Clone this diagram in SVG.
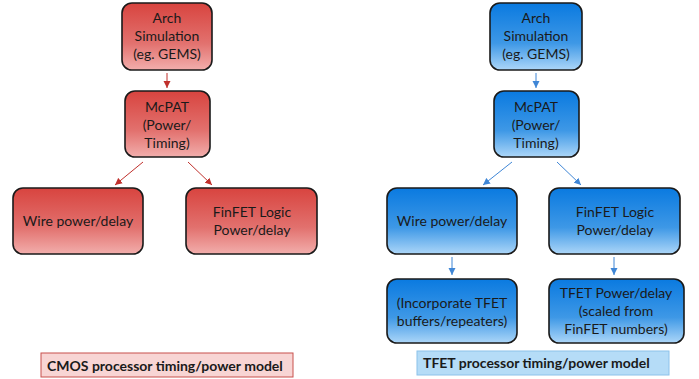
<svg xmlns="http://www.w3.org/2000/svg" width="699" height="379" viewBox="0 0 699 379">
<defs>
<linearGradient id="gr" x1="0" y1="0" x2="0" y2="1">
<stop offset="0" stop-color="#d8443f"/>
<stop offset="0.6" stop-color="#e2716e"/>
<stop offset="1" stop-color="#f2aeac"/>
</linearGradient>
<linearGradient id="gb" x1="0" y1="0" x2="0" y2="1">
<stop offset="0" stop-color="#0a7ae0"/>
<stop offset="0.6" stop-color="#3e98e6"/>
<stop offset="1" stop-color="#acd6f8"/>
</linearGradient>
<marker id="ar" markerWidth="8" markerHeight="8" refX="7" refY="4" orient="auto" markerUnits="userSpaceOnUse">
<path d="M0,0.5 L7,4 L0,7.5 Z" fill="#c0302c"/>
</marker>
<marker id="ab" markerWidth="8" markerHeight="8" refX="7" refY="4" orient="auto" markerUnits="userSpaceOnUse">
<path d="M0,0.5 L7,4 L0,7.5 Z" fill="#3f86d6"/>
</marker>
</defs>
<style>
.r{fill:url(#gr);stroke:#1a1a1a;stroke-width:1.6}
.b{fill:url(#gb);stroke:#1a1a1a;stroke-width:1.6}
text{font-family:Lato,"Open Sans",sans-serif;font-size:14px;fill:#1a1a1a;text-anchor:middle}
.lbl{font-weight:bold;text-anchor:start}
.cr{stroke:#c0302c;stroke-width:1;fill:none;marker-end:url(#ar)}
.cb{stroke:#3f86d6;stroke-width:1;fill:none;marker-end:url(#ab)}
</style>
<rect width="699" height="379" fill="#ffffff"/>
<g id="connectors">
<line class="cr" x1="167" y1="73" x2="167" y2="88"/>
<line class="cr" x1="143" y1="162" x2="115" y2="185"/>
<line class="cr" x1="188" y1="162" x2="212" y2="185"/>
<line class="cb" x1="536" y1="73" x2="536" y2="88"/>
<line class="cb" x1="512" y1="162" x2="483" y2="185"/>
<line class="cb" x1="557" y1="162" x2="581" y2="185"/>
<line class="cb" x1="452" y1="257" x2="452" y2="275"/>
<line class="cb" x1="614" y1="257" x2="614" y2="275"/>
</g>
<g id="r-arch"><rect class="r" x="122" y="3" width="90" height="67" rx="10"/>
<text x="167" y="23">Arch</text><text x="167" y="41">Simulation</text><text x="167" y="59">(eg. GEMS)</text></g>
<g id="r-mcpat"><rect class="r" x="125" y="91" width="85" height="66" rx="10"/>
<text x="167" y="112">McPAT</text><text x="167" y="130">(Power/</text><text x="167" y="148">Timing)</text></g>
<g id="r-wire"><rect class="r" x="13" y="188" width="130" height="66" rx="10"/>
<text x="78" y="226">Wire power/delay</text></g>
<g id="r-finfet"><rect class="r" x="186" y="188" width="131" height="66" rx="10"/>
<text x="252" y="217">FinFET Logic</text><text x="252" y="235">Power/delay</text></g>
<g id="cmos-label"><rect x="41" y="353" width="252" height="24" fill="#f8d5d4" stroke="#c8504c" stroke-width="1"/>
<text class="lbl" x="47" y="371">CMOS processor timing/power model</text></g>
<g id="b-arch"><rect class="b" x="490" y="3" width="92" height="67" rx="10"/>
<text x="536" y="23">Arch</text><text x="536" y="41">Simulation</text><text x="536" y="59">(eg. GEMS)</text></g>
<g id="b-mcpat"><rect class="b" x="494" y="91" width="85" height="66" rx="10"/>
<text x="536" y="112">McPAT</text><text x="536" y="130">(Power/</text><text x="536" y="148">Timing)</text></g>
<g id="b-wire"><rect class="b" x="387" y="188" width="130" height="66" rx="10"/>
<text x="452" y="226">Wire power/delay</text></g>
<g id="b-finfet"><rect class="b" x="549" y="188" width="131" height="66" rx="10"/>
<text x="615" y="217">FinFET Logic</text><text x="615" y="235">Power/delay</text></g>
<g id="b-incorporate"><rect class="b" x="387" y="279" width="130" height="64" rx="10"/>
<text x="452" y="308">(Incorporate TFET</text><text x="452" y="326">buffers/repeaters)</text></g>
<g id="b-tfet"><rect class="b" x="549" y="279" width="135" height="64" rx="10"/>
<text x="616" y="298">TFET Power/delay</text><text x="616" y="316">(scaled from</text><text x="616" y="334">FinFET numbers)</text></g>
<g id="tfet-label"><rect x="417" y="351" width="252" height="24" fill="#b5dcf7" stroke="#8cc2ea" stroke-width="1"/>
<text class="lbl" x="423" y="368">TFET processor timing/power model</text></g>
</svg>
